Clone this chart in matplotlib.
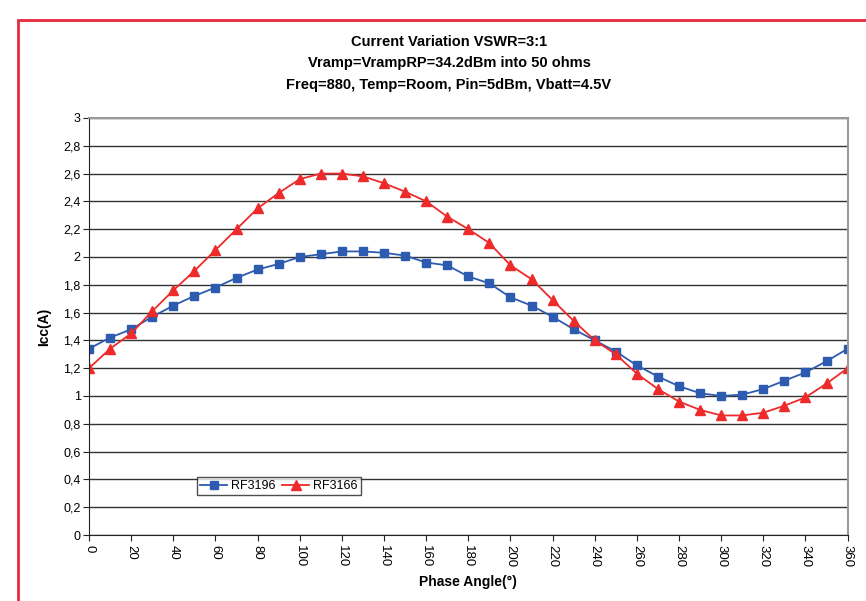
import numpy as np
import matplotlib.pyplot as plt
from matplotlib.patches import Rectangle

plt.rcParams['font.family'] = ['Liberation Sans Narrow', 'Liberation Sans', 'DejaVu Sans']

phase = list(range(0, 361, 10))
rf3196 = [1.34, 1.42, 1.48, 1.57, 1.65, 1.72, 1.78, 1.85, 1.91, 1.95,
          2.00, 2.02, 2.04, 2.04, 2.03, 2.01, 1.96, 1.94, 1.86, 1.81,
          1.71, 1.65, 1.57, 1.48, 1.40, 1.32, 1.22, 1.14, 1.07, 1.02,
          1.00, 1.01, 1.05, 1.11, 1.17, 1.25, 1.34]
rf3166 = [1.20, 1.34, 1.45, 1.61, 1.76, 1.90, 2.05, 2.20, 2.35, 2.46,
          2.56, 2.60, 2.60, 2.58, 2.53, 2.47, 2.40, 2.29, 2.20, 2.10,
          1.94, 1.84, 1.69, 1.54, 1.40, 1.30, 1.16, 1.05, 0.96, 0.90,
          0.86, 0.86, 0.88, 0.93, 0.99, 1.09, 1.20]
xticks = list(range(0, 361, 20))
yticks = [0, 0.2, 0.4, 0.6, 0.8, 1, 1.2, 1.4, 1.6, 1.8, 2, 2.2, 2.4, 2.6, 2.8, 3]

fig = plt.figure(figsize=(8.66, 6.01), dpi=100)
ax = fig.add_axes([0.1028, 0.1098, 0.876, 0.6939])

# red frame around the whole chart
fig.patches.append(Rectangle((0.021, -0.1), 1.2, 1.067, transform=fig.transFigure,
                             fill=False, edgecolor='#e8283c', linewidth=2))

ax.plot(phase, rf3196, color='#2c5bb0', marker='s', markersize=5.5, linewidth=1.3,
        label='RF3196')
ax.plot(phase, rf3166, color='#ee2a2a', marker='^', markersize=6.5, linewidth=1.3,
        label='RF3166')

ax.set_xlim(0, 360)
ax.set_ylim(0, 3)
ax.set_xticks(xticks)
ax.set_yticks(yticks)
ax.set_yticklabels([f'{v:g}'.replace('.', ',') for v in yticks], fontsize=9)
ax.set_xticklabels([str(v) for v in xticks], rotation=270, fontsize=9.5)
ax.tick_params(axis='both', direction='out', length=4, color='#222222')
ax.tick_params(axis='y', pad=2)
ax.grid(axis='y', color='#333333', linewidth=1)
ax.set_axisbelow(True)

for s in ['top', 'right']:
    ax.spines[s].set_color('#999999')
    ax.spines[s].set_linewidth(1.5)
ax.spines['left'].set_color('#222222')
ax.spines['bottom'].set_color('#222222')

ax.set_xlabel('Phase Angle(°)', fontsize=10, fontweight='bold', labelpad=5)
ax.set_ylabel('Icc(A)', fontsize=10, fontweight='bold')
ax.yaxis.set_label_coords(-0.05, 0.5)

title_lines = ['Current Variation VSWR=3:1',
               'Vramp=VrampRP=34.2dBm into 50 ohms',
               'Freq=880, Temp=Room, Pin=5dBm, Vbatt=4.5V']
for y, t in zip([0.93, 0.895, 0.859], title_lines):
    fig.text(0.5185, y, t, ha='center', va='center', fontsize=10.5, fontweight='bold')

leg = ax.legend(loc='center', bbox_to_anchor=(0.25, 0.117), ncol=2, fontsize=9,
                frameon=True, fancybox=False, edgecolor='#222222',
                handlelength=2.2, columnspacing=0.5, handletextpad=0.3,
                borderpad=0.25, borderaxespad=0)
leg.get_frame().set_linewidth(1)

plt.savefig('out.png', dpi=100)
